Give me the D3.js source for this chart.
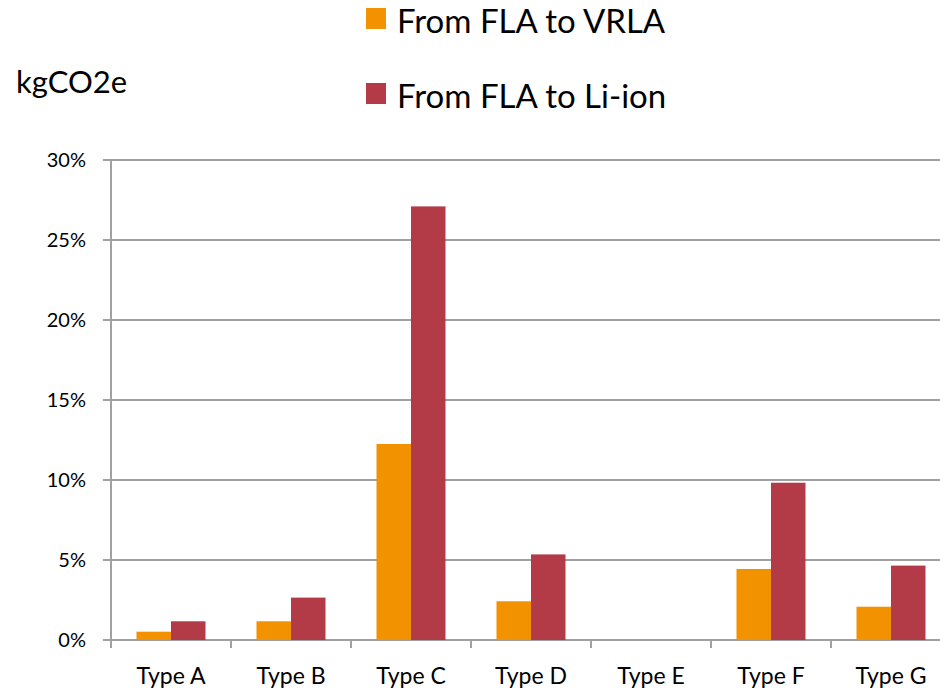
<!DOCTYPE html>
<html>
<head>
<meta charset="utf-8">
<script src="https://cdn.jsdelivr.net/npm/d3@7"></script>
<style>
  html, body { margin: 0; padding: 0; background: #fff; }
  svg { display: block; }
  text { font-family: Lato, "Open Sans", sans-serif; fill: #000; }
</style>
</head>
<body>
<svg id="chart" width="940" height="692"></svg>
<script>
const categories = ["Type A", "Type B", "Type C", "Type D", "Type E", "Type F", "Type G"];
const seriesNames = ["From FLA to VRLA", "From FLA to Li-ion"];
const vrla = [0.52, 1.17, 12.25, 2.42, 0, 4.44, 2.08];
const liion = [1.17, 2.65, 27.1, 5.35, 0, 9.83, 4.65];
const yTicks = [0, 5, 10, 15, 20, 25, 30];
const colors = ["#F39200", "#B33B48"];

(function () {
const svg = d3.select("#chart");
const plotLeft = 111, plotTop = 160, plotBottom = 640, step = 120;

const x = d3.scaleBand().domain(categories).range([plotLeft, plotLeft + step * categories.length]);
const x1 = d3.scaleBand().domain(seriesNames).range([25.5, 94.5]);
const y = d3.scaleLinear().domain([0, 30]).range([plotBottom, plotTop]);

const grid = "#A0A0A0";

// gridlines
svg.append("g").selectAll("line").data(yTicks).join("line")
  .attr("x1", plotLeft - 8).attr("x2", 940)
  .attr("y1", d => y(d)).attr("y2", d => y(d))
  .attr("stroke", grid).attr("stroke-width", 2);

// y axis line
svg.append("line").attr("x1", plotLeft).attr("x2", plotLeft)
  .attr("y1", plotTop).attr("y2", plotBottom + 8)
  .attr("stroke", grid).attr("stroke-width", 2);

// category ticks
svg.append("g").selectAll("line").data(categories).join("line")
  .attr("x1", d => x(d)).attr("x2", d => x(d))
  .attr("y1", plotBottom).attr("y2", plotBottom + 8)
  .attr("stroke", grid).attr("stroke-width", 2);

// y tick labels
svg.append("g").selectAll("text").data(yTicks).join("text")
  .attr("x", 86).attr("y", d => y(d) + 7)
  .attr("text-anchor", "end").attr("font-size", 20)
  .text(d => d + "%");

// bars
const data = categories.map((c, i) => ({ c, vals: [vrla[i], liion[i]] }));
const groups = svg.append("g").selectAll("g").data(data).join("g")
  .attr("transform", d => `translate(${x(d.c)},0)`);
groups.selectAll("rect").data(d => d.vals.map((v, j) => ({ s: seriesNames[j], v, j })))
  .join("rect")
  .attr("x", d => x1(d.s)).attr("width", x1.bandwidth())
  .attr("y", d => y(d.v)).attr("height", d => plotBottom - y(d.v))
  .attr("fill", d => colors[d.j]);

// category labels
svg.append("g").selectAll("text").data(categories).join("text")
  .attr("x", d => x(d) + step / 2).attr("y", 684)
  .attr("text-anchor", "middle").attr("font-size", 23)
  .text(d => d);

// y title
svg.append("text").attr("x", 16).attr("y", 93).attr("font-size", 31).text("kgCO2e");

// legend
const legendY = [8, 83];
const lg = svg.append("g").selectAll("g").data(seriesNames).join("g")
  .attr("transform", (d, i) => `translate(366,${legendY[i]})`);
lg.append("rect").attr("width", 20).attr("height", 21).attr("fill", (d, i) => colors[i]);
lg.append("text").attr("x", 31).attr("y", 25).attr("font-size", 33).text(d => d);
})();
</script>
</body>
</html>
